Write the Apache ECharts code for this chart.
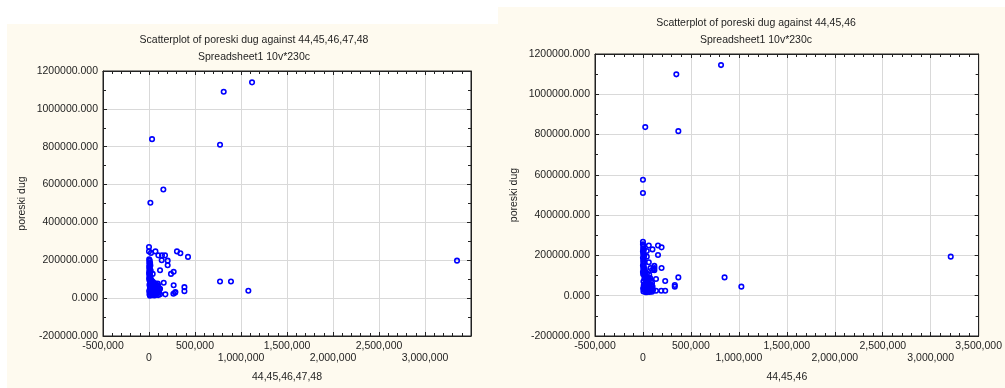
<!DOCTYPE html>
<html><head><meta charset="utf-8">
<script src="https://cdn.jsdelivr.net/npm/echarts@6/dist/echarts.min.js"></script>
<style>
html,body{margin:0;padding:0;background:#fff;}
#wrap{position:relative;width:1005px;height:388px;overflow:hidden;}
.panel{position:absolute;background:#fefaef;}
#c{position:absolute;left:0;top:0;width:1005px;height:388px;}
</style>
</head><body>
<div id="wrap">
<div class="panel" style="left:7px;top:24px;width:491px;height:364px;"></div>
<div class="panel" style="left:498px;top:7px;width:507px;height:381px;"></div>
<div id="c"></div>
</div>
<script>
// ---------- data ----------
const leftTitle = 'Scatterplot of poreski dug against 44,45,46,47,48';
const rightTitle = 'Scatterplot of poreski dug against 44,45,46';
const subTitle = 'Spreadsheet1 10v*230c';
const yName = 'poreski dug';
const leftXName = '44,45,46,47,48';
const rightXName = '44,45,46';
const xTicks = [-500000, 3500000, 500000];   // min, max, step
const yTicks = [-200000, 1200000, 200000];

const leftPoints = [
  [1120000,1140000],[812000,1090000],[33000,840000],[772000,810000],[156000,574000],[15000,504000],
  [3348000,198000],[772000,88000],[891000,88000],[1080000,39000],
  [0,270000],[0,247000],[22000,239000],[70000,247000],[102000,226000],[141000,226000],[174000,226000],
  [138000,200000],[203000,198000],[203000,174000],[304000,247000],[341000,237000],[424000,218000],
  [120000,147000],[268000,139000],[239000,128000],[40000,128000],[160000,81000],[268000,68000],
  [385000,58000],[385000,37000],[287000,32000],[265000,23000],[178000,20000],[120000,49000],[283000,28000],
  [2000,205000],[8000,198000],[3000,190000],[12000,185000],[5000,178000],[15000,172000],[2000,165000],
  [9000,158000],[4000,150000],[18000,146000],[6000,140000],[1000,133000],[11000,128000],[3000,122000],
  [14000,116000],[7000,110000],[2000,104000],[20000,100000],[5000,95000],[10000,90000],
  [25000,95000],[40000,88000],[15000,84000],[60000,80000],[30000,76000],[80000,72000],[5000,70000],
  [50000,68000],[100000,65000],[20000,62000],[70000,60000],[35000,56000],[90000,54000],[10000,52000],
  [55000,50000],[115000,48000],[25000,45000],[75000,43000],[45000,40000],[2000,38000],[95000,36000],
  [65000,33000],[15000,31000],[110000,29000],[35000,27000],[85000,25000],[50000,23000],[5000,21000],
  [120000,20000],[70000,18000],[25000,17000],[100000,16000],[40000,15000],[60000,14000],[10000,13000],
  [90000,30000],[30000,35000],[80000,40000],[18000,42000],[60000,46000],[105000,52000],[42000,58000],
  [12000,64000],[88000,62000],[65000,70000],[95000,77000],[22000,72000]
];

const rightPoints = [
  [814000,1145000],[348000,1099000],[24000,837000],[369000,817000],[0,576000],[0,510000],
  [3209000,194000],[851000,91000],[1026000,45000],
  [369000,91000],[332000,53000],[332000,45000],[232000,73000],[232000,25000],[191000,25000],[136000,25000],
  [136000,83000],[194000,137500],[119000,137000],[119000,127000],[119000,148000],[157000,202000],
  [61000,166000],[194000,240000],[157000,249000],[99000,230000],[61000,249000],[40000,222000],
  [40000,194000],[0,268000],[95000,127500],[115000,132000],[78000,137000],
  [0,255000],[5000,245000],[2000,235000],[10000,228000],[0,220000],[6000,212000],[3000,204000],
  [12000,196000],[0,188000],[8000,180000],[2000,172000],[15000,165000],[4000,158000],[0,150000],
  [10000,143000],[3000,136000],[18000,130000],[6000,124000],[0,118000],[12000,112000],[2000,106000],
  [20000,100000],
  [30000,96000],[45000,90000],[15000,86000],[65000,82000],[30000,78000],[85000,74000],[5000,70000],
  [50000,67000],[95000,64000],[20000,61000],[70000,58000],[38000,55000],[88000,52000],[8000,50000],
  [58000,48000],[100000,45000],[25000,43000],[75000,40000],[45000,38000],[2000,36000],[92000,34000],
  [62000,32000],[15000,30000],[105000,28000],[35000,26000],[80000,24000],[50000,22000],[5000,21000],
  [70000,19000],[25000,18000],[95000,20000],[40000,17000],[60000,25000],[10000,40000],[85000,36000],
  [30000,62000],[55000,72000],[75000,88000],[18000,100000],[42000,110000],[65000,104000],[28000,118000]
];

// ---------- chart ----------
const FONT = "'Liberation Sans', Arial, sans-serif";
const TXT = '#1e1e1e';
const LINE = '#222';
const fs = 10.5;

function fmtX(v, i) {
  const s = Math.round(v).toLocaleString('en-US');
  return (i % 2 === 1) ? '\n' + s : s;
}
function fmtY(v) { return Number(v).toFixed(3); }

function xAxisPair(g, name) {
  const base = {
    type: 'value', gridIndex: g, min: xTicks[0], max: xTicks[1], interval: xTicks[2],
    axisLine: { show: true, onZero: false, lineStyle: { color: LINE, width: 1 } },
    axisTick: { show: true, inside: true, length: 4, lineStyle: { color: LINE } },
    minorTick: { show: true, splitNumber: 5, length: 3, lineStyle: { color: LINE } },
    splitLine: { show: false }
  };
  return [
    Object.assign({}, base, {
      position: 'bottom', name: name, nameLocation: 'middle', nameGap: 36,
      nameTextStyle: { fontFamily: FONT, fontSize: fs, color: TXT },
      axisLabel: { formatter: fmtX, margin: 4, fontFamily: FONT, fontSize: fs, lineHeight: 12, color: TXT },
      splitLine: { show: true, lineStyle: { color: '#d9d9d9', width: 1 } }
    }),
    Object.assign({}, base, { position: 'top', axisLabel: { show: false } })
  ];
}
function yAxisPair(g, gap) {
  const base = {
    type: 'value', gridIndex: g, min: yTicks[0], max: yTicks[1], interval: yTicks[2],
    axisLine: { show: true, onZero: false, lineStyle: { color: LINE, width: 1 } },
    axisTick: { show: true, inside: true, length: 4, lineStyle: { color: LINE } },
    minorTick: { show: true, splitNumber: 2, length: 3, lineStyle: { color: LINE } },
    splitLine: { show: false }
  };
  return [
    Object.assign({}, base, {
      position: 'left', name: yName, nameLocation: 'middle', nameGap: gap,
      nameTextStyle: { fontFamily: FONT, fontSize: fs, color: TXT },
      axisLabel: { formatter: fmtY, margin: 5, fontFamily: FONT, fontSize: fs, color: TXT },
      splitLine: { show: true, lineStyle: { color: '#d9d9d9', width: 1 } }
    }),
    Object.assign({}, base, { position: 'right', axisLabel: { show: false } })
  ];
}

function titleAt(x, y, text) {
  return {
    text: text, subtext: subTitle, left: x, top: y, textAlign: 'center', padding: 0, itemGap: 5,
    textStyle: { fontFamily: FONT, fontSize: fs, fontWeight: 'normal', color: TXT, lineHeight: 12 },
    subtextStyle: { fontFamily: FONT, fontSize: fs, color: TXT, lineHeight: 12 }
  };
}

const seriesStyle = {
  type: 'scatter', symbol: 'circle', symbolSize: 4.5,
  itemStyle: { color: 'rgba(0,0,0,0)', borderColor: '#0000ff', borderWidth: 1.6, opacity: 1 },
  emphasis: { disabled: true }, animation: false
};

const chart = echarts.init(document.getElementById('c'), null, { renderer: 'canvas' });
chart.setOption({
  backgroundColor: 'transparent',
  animation: false,
  title: [titleAt(254, 34, leftTitle), titleAt(756, 17, rightTitle)],
  grid: [
    { left: 103, top: 71, width: 368, height: 266, show: true, backgroundColor: '#fff', borderColor: LINE, borderWidth: 1 },
    { left: 595, top: 54, width: 389, height: 283, show: true, backgroundColor: '#fff', borderColor: LINE, borderWidth: 1 }
  ],
  xAxis: [].concat(xAxisPair(0, leftXName), xAxisPair(1, rightXName)),
  yAxis: [].concat(yAxisPair(0, 75), yAxisPair(1, 75)),
  series: [
    Object.assign({}, seriesStyle, { xAxisIndex: 0, yAxisIndex: 0, data: leftPoints }),
    Object.assign({}, seriesStyle, { xAxisIndex: 2, yAxisIndex: 2, data: rightPoints })
  ]
});
</script>
</body></html>
